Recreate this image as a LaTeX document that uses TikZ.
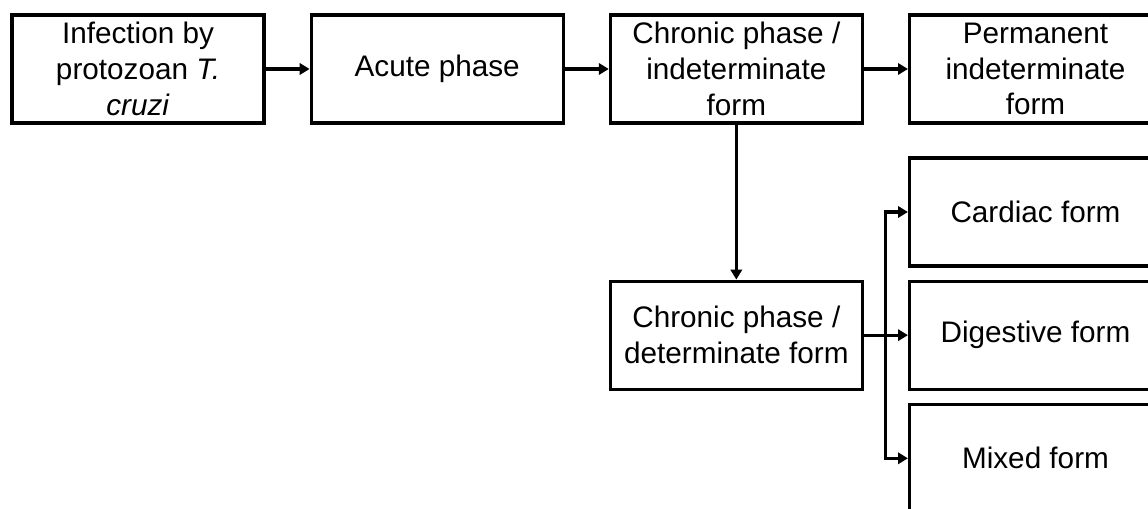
\documentclass[tikz,border=0pt]{standalone}
\usepackage{fontspec}
\setmainfont{Liberation Sans}
\usetikzlibrary{positioning,arrows.meta}

\begin{document}
\begin{tikzpicture}[line width=0.9pt,
    stage/.style={rectangle,draw,align=center,minimum width=2.52cm,minimum height=1.08cm,
      inner sep=1pt,font=\fontsize{8.45}{10.2}\selectfont},
    flow/.style={-{Triangle[length=2.8pt,width=3.2pt]}}]
      \useasboundingbox (0,0) rectangle (11.48,-5.09);
      \clip (0,0) rectangle (11.48,-5.09);
      % top row
      \node[stage] (infection) at (1.38,-0.69) {Infection by\\protozoan \textit{T.}\\\textit{cruzi}};
      \node[stage,right=0.44cm of infection] (acute) {Acute phase};
      \node[stage,right=0.44cm of acute] (indet) {Chronic phase /\\indeterminate\\form};
      \node[stage,right=0.44cm of indet] (permanent) {Permanent\\indeterminate\\form};
      % chronic determinate
      \node[stage,below=1.55cm of indet] (determ) {Chronic phase /\\determinate form};
      % clinical forms
      \node[stage,right=0.44cm of determ] (digestive) {Digestive form};
      \node[stage,above=0.12cm of digestive] (cardiac) {Cardiac form};
      \node[stage,below=0.12cm of digestive] (mixed) {Mixed form};
      % interactions..
      \draw[flow] (infection.east) -- (acute.west);
      \draw[flow] (acute.east) -- (indet.west);
      \draw[flow] (indet.east) -- (permanent.west);
      \draw[flow] (indet.south) -- (determ.north);
      % branching
      \draw[flow] (determ.east) -- (digestive.west);
      \coordinate[right=0.22cm of determ.east] (split);
      \draw[flow] (split) |- (cardiac.west);
      \draw[flow] (split) |- (mixed.west);
\end{tikzpicture}
\end{document}
